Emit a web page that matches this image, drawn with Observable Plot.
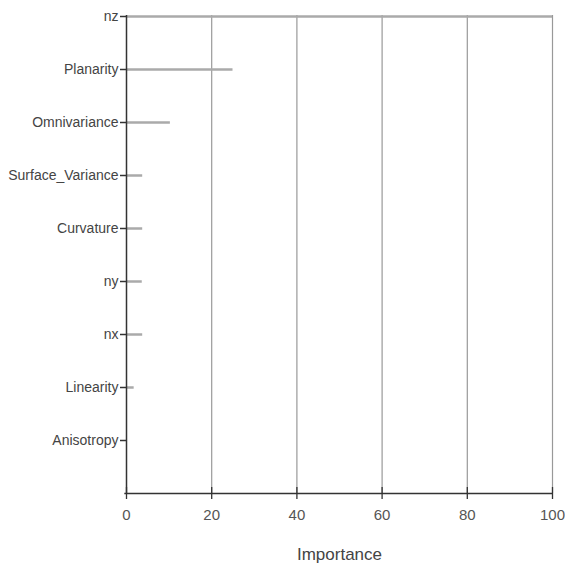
<!DOCTYPE html>
<html><head><meta charset="utf-8">
<script src="https://cdn.jsdelivr.net/npm/d3@7"></script>
<script src="https://cdn.jsdelivr.net/npm/@observablehq/plot@0.6"></script>
<style>body{margin:0;background:#fff}</style>
</head><body><div id="chart"></div>
<script>
const features = ["nz","Planarity","Omnivariance","Surface_Variance","Curvature","ny","nx","Linearity","Anisotropy"];
const importance = [100,25,10.3,3.8,3.8,3.7,3.8,1.8,0];
const xTicks = [0,20,40,60,80,100];
const gridTicks = [20,40,60,80,100];
const axisTitle = "Importance";

const data = features.map((f,i)=>({feature:f, value:importance[i]}));
const yDomain = [...features, " "];

const chart = Plot.plot({
  width:565, height:573, marginLeft:126, marginRight:13, marginTop:15, marginBottom:80,
  style:{fontFamily:"'Liberation Sans', Arial, sans-serif", fontSize:"14px", color:"#444", background:"#fff"},
  x:{domain:[0,100]},
  y:{type:"point", domain:yDomain, padding:0},
  marks:[
    Plot.ruleX(gridTicks, {stroke:"#999", strokeWidth:1.2, strokeOpacity:1}),
    Plot.ruleY(data, {y:"feature", x1:0, x2:"value", stroke:"#aaa", strokeWidth:2.5}),
    Plot.ruleX([0], {stroke:"#333", strokeWidth:1.5}),
    Plot.ruleY([" "], {stroke:"#333", strokeWidth:1.5, x1:-0.4, x2:100}),
    Plot.axisY(features, {tickSize:6, tickPadding:2, stroke:"#333", strokeWidth:1.5, fill:"#444", label:null, fontSize:14}),
    Plot.axisX(xTicks, {tickSize:12, dy:-6, tickFormat:() => "", stroke:"#333", strokeWidth:1.3, label:null}),
    Plot.axisX(xTicks, {tickSize:0, tickPadding:16, fill:"#555", label:null, fontSize:15}),
    Plot.text([axisTitle], {frameAnchor:"bottom", dy:66, fill:"#444", fontSize:17})
  ]
});
document.getElementById("chart").append(chart);
</script>
</body></html>
